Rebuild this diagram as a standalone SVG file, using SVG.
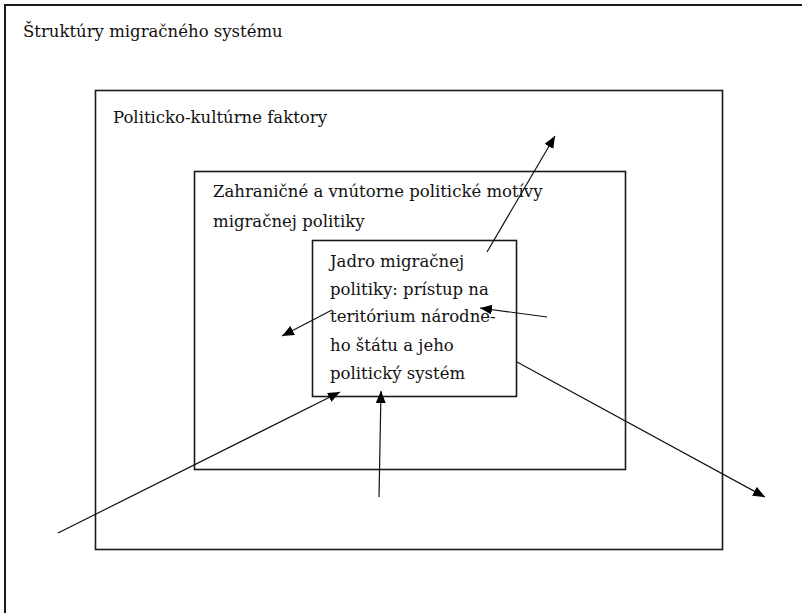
<svg xmlns="http://www.w3.org/2000/svg" width="802" height="613" viewBox="0 0 802 613">
<style>
.box{fill:none;stroke:#1a1a1a;stroke-width:1.6}
.t{font-family:"DejaVu Serif","Liberation Serif",serif;font-size:16.5px;fill:#111}
.c{stroke:#111;stroke-width:1.2;fill:none;marker-end:url(#ah)}
</style>
<defs>
<marker id="ah" markerUnits="userSpaceOnUse" markerWidth="13" markerHeight="11" refX="12" refY="5" orient="auto">
<path d="M0,0 L12,5 L0,10 z" fill="#000"/>
</marker>
</defs>
<rect x="0" y="0" width="802" height="613" fill="#fff"/>
<g id="frame">
<path class="box" d="M5,613 L5,5 L802,5" style="stroke-width:2"/>
<text class="t" x="23" y="37">Štruktúry migračného systému</text>
</g>
<g id="politicko-kulturne">
<rect class="box" x="95.5" y="90.5" width="627" height="459"/>
<text class="t" x="113" y="123">Politicko-kultúrne faktory</text>
</g>
<g id="zahranicne">
<rect class="box" x="194.5" y="171.5" width="431" height="298"/>
<text class="t" x="213" y="197">Zahraničné a vnútorne politické motívy</text>
<text class="t" x="213" y="227">migračnej politiky</text>
</g>
<g id="jadro">
<rect class="box" x="312.5" y="240.5" width="204" height="156" fill="#fff"/>
<text class="t" x="330" y="267">Jadro migračnej</text>
<text class="t" x="330" y="295">politiky: prístup na</text>
<text class="t" x="330" y="322">teritórium národne-</text>
<text class="t" x="330" y="351">ho štátu a jeho</text>
<text class="t" x="330" y="379">politický systém</text>
</g>
<g id="connectors">
<line class="c" x1="487" y1="252" x2="555" y2="136"/>
<line class="c" x1="547" y1="317" x2="480" y2="308"/>
<line class="c" x1="332" y1="310" x2="282" y2="336"/>
<line class="c" x1="58" y1="533" x2="340" y2="392"/>
<line class="c" x1="379" y1="497" x2="381" y2="391"/>
<line class="c" x1="517" y1="362" x2="765" y2="497"/>
</g>
</svg>
